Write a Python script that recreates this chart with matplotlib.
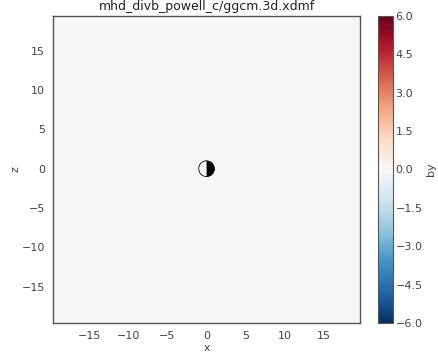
import numpy as np
import matplotlib.pyplot as plt
from matplotlib.patches import Wedge, Circle

# grid extent of the slice (cell edges) and the by field on it
x_edges = np.linspace(-19.6, 19.6, 41)
z_edges = np.linspace(-19.6, 19.4, 41)
by = np.zeros((40, 40))

vmin, vmax = -6.0, 6.0
cbar_ticks = [-6.0, -4.5, -3.0, -1.5, 0.0, 1.5, 3.0, 4.5, 6.0]
xticks = [-15, -10, -5, 0, 5, 10, 15]
yticks = [-15, -10, -5, 0, 5, 10, 15]

plt.rcParams['font.family'] = 'DejaVu Sans'
plt.rcParams['font.size'] = 8

fig = plt.figure(figsize=(4.39, 3.52), dpi=100)
ax = fig.add_axes([0.121, 0.082, 0.699, 0.873])
cax = fig.add_axes([0.861, 0.082, 0.034, 0.873])

mesh = ax.pcolormesh(x_edges, z_edges, by, cmap='RdBu_r', vmin=vmin, vmax=vmax)

# earth: day side white, night side black
r_earth = 1.0
ax.add_patch(Wedge((0, 0), r_earth, 90, 270, facecolor='white', edgecolor='none', zorder=3))
ax.add_patch(Wedge((0, 0), r_earth, -90, 90, facecolor='black', edgecolor='none', zorder=3))
ax.add_patch(Circle((0, 0), r_earth, facecolor='none', edgecolor='black', lw=0.6, zorder=4))

ax.set_xlim(x_edges[0], x_edges[-1])
ax.set_ylim(z_edges[0], z_edges[-1])
ax.set_aspect('auto')
ax.set_xticks(xticks)
ax.set_yticks(yticks)
ax.tick_params(length=0, pad=6, labelcolor='#444444')
for s in ax.spines.values():
    s.set_color('#555555')
    s.set_linewidth(1.0)
ax.set_xlabel('x', color='#444444', labelpad=1)
ax.set_ylabel('z', color='#444444', labelpad=1)
ax.set_title('mhd_divb_powell_c/ggcm.3d.xdmf', fontsize=9, color='#222222', pad=4)

cb = fig.colorbar(mesh, cax=cax, ticks=cbar_ticks)
cb.ax.tick_params(length=0, pad=2, labelcolor='#444444')
cb.outline.set_edgecolor('#555555')
cb.set_label('by', color='#444444', labelpad=2)

fig.savefig('out.png', dpi=100)
